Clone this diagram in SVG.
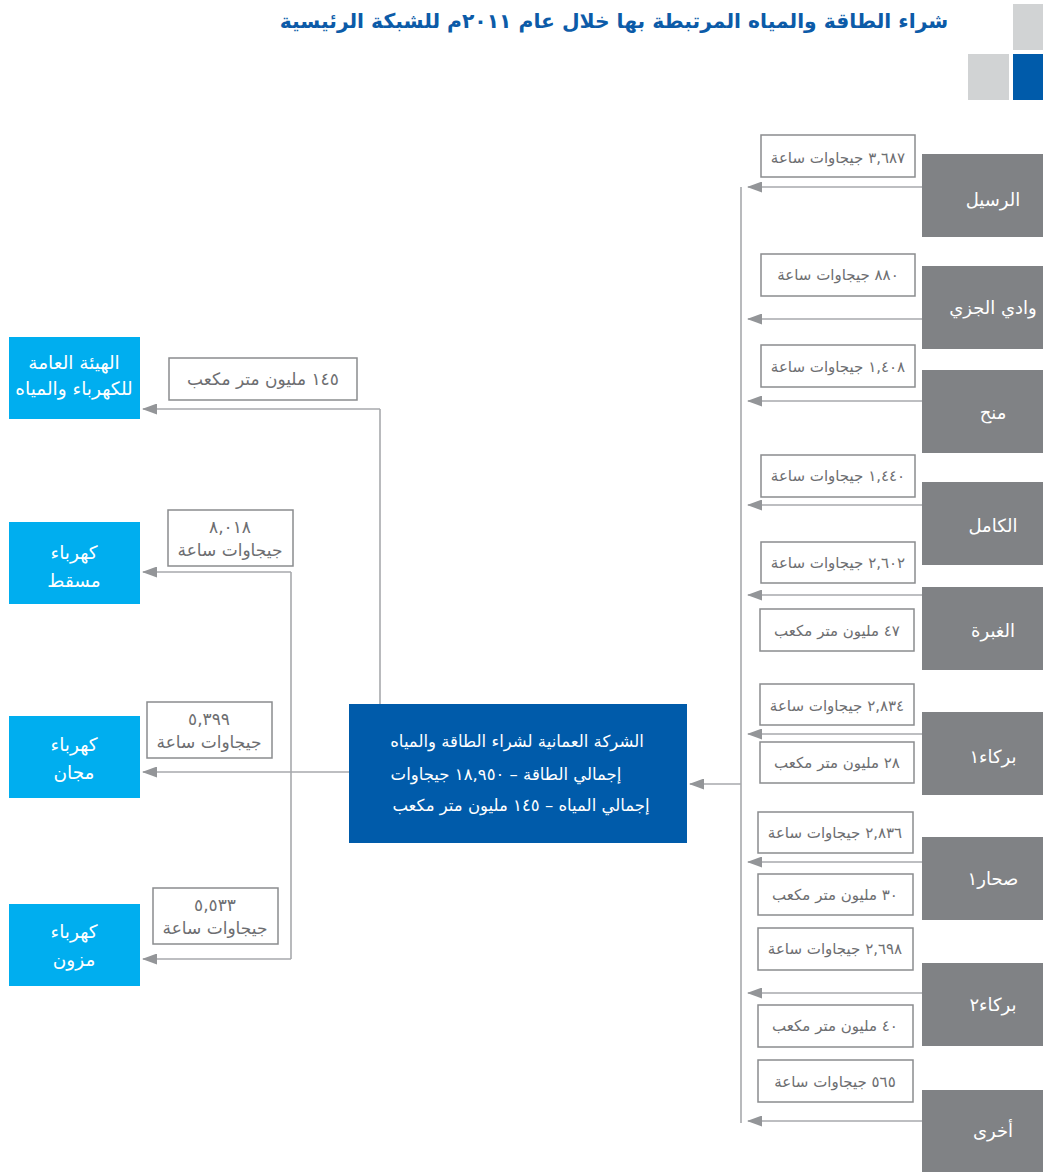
<svg xmlns="http://www.w3.org/2000/svg" width="1043" height="1172" viewBox="0 0 1043 1172">
<style>
text{font-family:"DejaVu Sans","Noto Sans",sans-serif;direction:rtl;text-anchor:middle}
.title{font-size:20.3px;font-weight:bold;fill:#0c5ba8}
.src rect{fill:#808285}
.src text{fill:#ffffff;font-size:18px}
.dst rect{fill:#00aeef}
.dst text{fill:#ffffff;font-size:18.5px}
.hub rect{fill:#005baa}
.hub text{fill:#ffffff;font-size:16.5px}
.val rect{fill:#ffffff;stroke:#8a8c8e;stroke-width:1.5}
.val text{fill:#6d6e71;font-size:15px}
.val.big text{font-size:17px}
.conn path{fill:none;stroke:#a7a9ac;stroke-width:1.6}
.arr path{fill:none;stroke:#a7a9ac;stroke-width:1.6;marker-end:url(#ah)}
</style>
<defs>
<marker id="ah" markerUnits="userSpaceOnUse" markerWidth="15" markerHeight="11" refX="14" refY="5.5" orient="auto">
<path d="M0,0 L15,5.5 L0,11 z" fill="#939598"/>
</marker>
</defs>
<rect x="1013" y="4" width="30" height="46" fill="#d1d3d4"/>
<rect x="968" y="54" width="41" height="46" fill="#d1d3d4"/>
<rect x="1013" y="54" width="30" height="46" fill="#005baa"/>
<text class="title" x="614" y="28">شراء الطاقة والمياه المرتبطة بها خلال عام ٢٠١١م للشبكة الرئيسية</text>

<g id="connectors">
<g class="conn">
<path d="M741,187 V1123"/>
<path d="M380,704 V409"/>
<path d="M291,572 V959"/>
</g>
<g class="arr">
<path d="M922,187 H748"/>
<path d="M922,319 H748"/>
<path d="M922,401 H748"/>
<path d="M922,505 H748"/>
<path d="M922,595 H748"/>
<path d="M922,734 H748"/>
<path d="M922,862 H748"/>
<path d="M922,993 H748"/>
<path d="M922,1121 H748"/>
<path d="M741,784 H690"/>
<path d="M380,409 H143"/>
<path d="M349,772 H143"/>
<path d="M291,572 H143"/>
<path d="M291,959 H143"/>
</g>
</g>

<g id="src-rusail" class="src"><rect x="922" y="154" width="121" height="83"/><text x="993" y="206">الرسيل</text></g>
<g id="src-wadi" class="src"><rect x="922" y="266" width="121" height="83"/><text x="993" y="314">وادي الجزي</text></g>
<g id="src-manah" class="src"><rect x="922" y="370" width="121" height="83"/><text x="993" y="419">منح</text></g>
<g id="src-kamil" class="src"><rect x="922" y="482" width="121" height="83"/><text x="993" y="532">الكامل</text></g>
<g id="src-ghubra" class="src"><rect x="922" y="587" width="121" height="83"/><text x="993" y="637">الغبرة</text></g>
<g id="src-barka1" class="src"><rect x="922" y="712" width="121" height="83"/><text x="993" y="763">بركاء١</text></g>
<g id="src-sohar1" class="src"><rect x="922" y="837" width="121" height="83"/><text x="993" y="885">صحار١</text></g>
<g id="src-barka2" class="src"><rect x="922" y="963" width="121" height="83"/><text x="993" y="1011">بركاء٢</text></g>
<g id="src-other" class="src"><rect x="922" y="1090" width="121" height="82"/><text x="993" y="1137">أخرى</text></g>

<g id="v-rusail" class="val"><rect x="761" y="135" width="154" height="42"/><text x="838" y="163">٣,٦٨٧ جيجاوات ساعة</text></g>
<g id="v-wadi" class="val"><rect x="761" y="254" width="154" height="42"/><text x="838" y="280">٨٨٠ جيجاوات ساعة</text></g>
<g id="v-manah" class="val"><rect x="761" y="345" width="154" height="42"/><text x="838" y="372">١,٤٠٨ جيجاوات ساعة</text></g>
<g id="v-kamil" class="val"><rect x="761" y="455" width="154" height="42"/><text x="838" y="481">١,٤٤٠ جيجاوات ساعة</text></g>
<g id="v-ghubra-p" class="val"><rect x="761" y="542" width="154" height="41"/><text x="838" y="568">٢,٦٠٢ جيجاوات ساعة</text></g>
<g id="v-ghubra-w" class="val"><rect x="760" y="609" width="154" height="42"/><text x="837" y="636">٤٧ مليون متر مكعب</text></g>
<g id="v-barka1-p" class="val"><rect x="760" y="684" width="154" height="41"/><text x="837" y="711">٢,٨٣٤ جيجاوات ساعة</text></g>
<g id="v-barka1-w" class="val"><rect x="760" y="742" width="154" height="41"/><text x="837" y="768">٢٨ مليون متر مكعب</text></g>
<g id="v-sohar1-p" class="val"><rect x="758" y="812" width="155" height="41"/><text x="835" y="838">٢,٨٣٦ جيجاوات ساعة</text></g>
<g id="v-sohar1-w" class="val"><rect x="758" y="874" width="155" height="41"/><text x="835" y="900">٣٠ مليون متر مكعب</text></g>
<g id="v-barka2-p" class="val"><rect x="758" y="928" width="155" height="42"/><text x="835" y="954">٢,٦٩٨ جيجاوات ساعة</text></g>
<g id="v-barka2-w" class="val"><rect x="758" y="1005" width="155" height="42"/><text x="835" y="1031">٤٠ مليون متر مكعب</text></g>
<g id="v-other" class="val"><rect x="758" y="1060" width="155" height="42"/><text x="835" y="1087">٥٦٥ جيجاوات ساعة</text></g>

<g id="hub" class="hub"><rect x="349" y="704" width="338" height="139"/>
<text x="517" y="747">الشركة العمانية لشراء الطاقة والمياه</text>
<text x="506" y="780">إجمالي الطاقة –  ١٨,٩٥٠ جيجاوات</text>
<text x="521" y="811">إجمالي المياه – ١٤٥ مليون متر مكعب</text>
</g>

<g id="dst-paew" class="dst"><rect x="9" y="337" width="131" height="82"/><text x="74" y="369">الهيئة العامة</text><text x="74" y="395">للكهرباء والمياه</text></g>
<g id="dst-muscat" class="dst"><rect x="9" y="522" width="131" height="82"/><text x="74" y="559">كهرباء</text><text x="74" y="587">مسقط</text></g>
<g id="dst-majan" class="dst"><rect x="9" y="716" width="131" height="82"/><text x="74" y="751">كهرباء</text><text x="74" y="779">مجان</text></g>
<g id="dst-mazoon" class="dst"><rect x="9" y="904" width="131" height="82"/><text x="74" y="938">كهرباء</text><text x="74" y="966">مزون</text></g>

<g id="v-paew" class="val big"><rect x="169" y="358" width="188" height="42"/><text x="263" y="385">١٤٥ مليون متر مكعب</text></g>
<g id="v-muscat" class="val big"><rect x="168" y="510" width="125" height="56"/><text x="230" y="533">٨,٠١٨</text><text x="230" y="556">جيجاوات ساعة</text></g>
<g id="v-majan" class="val big"><rect x="147" y="702" width="125" height="56"/><text x="209" y="725">٥,٣٩٩</text><text x="209" y="748">جيجاوات ساعة</text></g>
<g id="v-mazoon" class="val big"><rect x="153" y="888" width="125" height="56"/><text x="215" y="911">٥,٥٣٣</text><text x="215" y="934">جيجاوات ساعة</text></g>
</svg>
